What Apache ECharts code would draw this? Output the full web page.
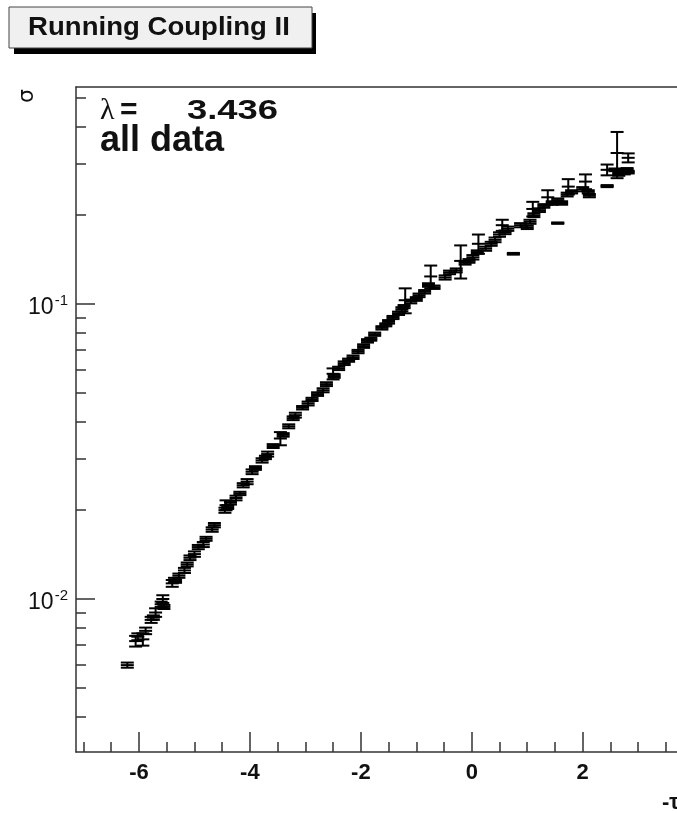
<!DOCTYPE html>
<html>
<head>
<meta charset="utf-8">
<script src="https://cdn.jsdelivr.net/npm/echarts@6/dist/echarts.min.js"></script>
<style>
  html, body { margin: 0; padding: 0; background: #fff; }
  #chart { width: 677px; height: 813px; }
</style>
</head>
<body>
<div id="chart"></div>
<script>
// running coupling sigma vs -tau, lambda = 3.436, all data
var xVals = [-6.21, -6.06, -6.02, -5.93, -5.88, -5.78, -5.74, -5.70, -5.60, -5.57, -5.55,
  -5.40, -5.36, -5.34, -5.28, -5.18, -5.13, -5.08, -5.00, -4.93, -4.84, -4.79, -4.68, -4.64,
  -4.45, -4.43, -4.40, -4.35, -4.25, -4.18, -4.12, -4.05, -3.96, -3.90, -3.78, -3.72, -3.68,
  -3.58, -3.45, -3.40, -3.30, -3.22, -3.18, -3.05, -2.95, -2.88, -2.78, -2.68, -2.62, -2.50,
  -2.48, -2.40, -2.30, -2.22, -2.14, -2.05, -1.95, -1.88, -1.82, -1.75, -1.62, -1.55, -1.50,
  -1.42, -1.32, -1.26, -1.22, -1.20, -1.10, -1.00, -0.95, -0.85, -0.78, -0.74, -0.68, -0.48,
  -0.40, -0.28, -0.20, -0.12, -0.05, 0.02, 0.10, 0.12, 0.25, 0.35, 0.42, 0.50, 0.55, 0.60,
  0.65, 0.75, 0.88, 1.00, 1.05, 1.10, 1.12, 1.22, 1.30, 1.37, 1.45, 1.55, 1.55, 1.62, 1.72,
  1.74, 1.80, 2.00, 2.05, 2.10, 2.12, 2.44, 2.44, 2.58, 2.62, 2.65, 2.75, 2.80, 2.82, 2.82];
var yVals = [0.00597, 0.00720, 0.00745, 0.00730, 0.00780, 0.00850, 0.00865, 0.00900, 0.00960, 0.01000, 0.00940,
  0.01130, 0.01160, 0.01150, 0.01200, 0.01250, 0.01310, 0.01380, 0.01420, 0.01500, 0.01530, 0.01600, 0.01720, 0.01780,
  0.02000, 0.02080, 0.02050, 0.02120, 0.02200, 0.02280, 0.02430, 0.02500, 0.02700, 0.02780, 0.02950, 0.03020, 0.03100,
  0.03300, 0.03500, 0.03600, 0.03850, 0.04100, 0.04200, 0.04450, 0.04600, 0.04750, 0.04950, 0.05100, 0.05350, 0.05800,
  0.05700, 0.06050, 0.06300, 0.06450, 0.06600, 0.06900, 0.07200, 0.07500, 0.07600, 0.07900, 0.08300, 0.08500, 0.08700,
  0.09000, 0.09300, 0.09600, 0.09800, 0.10300, 0.10200, 0.10400, 0.10700, 0.11000, 0.11600, 0.12400, 0.11400, 0.12300,
  0.12800, 0.13000, 0.14000, 0.13800, 0.14000, 0.14400, 0.15000, 0.16000, 0.15400, 0.16000, 0.16500, 0.17200, 0.18500, 0.17500,
  0.18000, 0.14800, 0.18500, 0.18200, 0.19000, 0.21000, 0.20000, 0.20800, 0.21500, 0.23000, 0.22000, 0.18800, 0.22500, 0.22000, 0.23500,
  0.25000, 0.24000, 0.24500, 0.26000, 0.24000, 0.23300, 0.25100, 0.28500, 0.28500, 0.32500, 0.27500, 0.27800, 0.28600, 0.31300, 0.28000];
var yErrs = [0.00012, 0.00030, 0.00020, 0.00035, 0.00020, 0.00020, 0.00015, 0.00030, 0.00020, 0.00030, 0.00015,
  0.00030, 0.00020, 0.00015, 0.00020, 0.00025, 0.00020, 0.00025, 0.00030, 0.00025, 0.00030, 0.00025, 0.00030, 0.00030,
  0.00040, 0.00080, 0.00030, 0.00030, 0.00040, 0.00030, 0.00040, 0.00050, 0.00050, 0.00040, 0.00050, 0.00040, 0.00060,
  0.00050, 0.00180, 0.00050, 0.00060, 0.00060, 0.00080, 0.00060, 0.00070, 0.00060, 0.00070, 0.00080, 0.00080, 0.00250,
  0.00080, 0.00080, 0.00090, 0.00080, 0.00090, 0.00090, 0.00100, 0.00100, 0.00090, 0.00100, 0.00110, 0.00100, 0.00120,
  0.00110, 0.00120, 0.00150, 0.00120, 0.01000, 0.00150, 0.00150, 0.00150, 0.00150, 0.00160, 0.01100, 0.00150, 0.00200,
  0.00180, 0.00200, 0.01800, 0.00200, 0.00200, 0.00250, 0.00200, 0.01200, 0.00250, 0.00250, 0.00300, 0.00300, 0.00800, 0.00250,
  0.00300, 0.00100, 0.00300, 0.00250, 0.00300, 0.01200, 0.00300, 0.00300, 0.00300, 0.01300, 0.00300, 0.00100, 0.00300, 0.00300, 0.00350,
  0.01500, 0.00300, 0.00400, 0.01500, 0.00300, 0.00300, 0.00200, 0.01200, 0.00300, 0.05800, 0.00300, 0.00300, 0.00300, 0.01100, 0.00300];

var xMajor = [-6, -4, -2, 0, 2];
var xMinor = [-7, -6.5, -5.5, -5, -4.5, -3.5, -3, -2.5, -1.5, -1, -0.5, 0.5, 1, 1.5, 2.5, 3, 3.5];
var yMajor = [0.01, 0.1];
var yMinor = [0.004, 0.005, 0.006, 0.007, 0.008, 0.009, 0.02, 0.03, 0.04, 0.05, 0.06, 0.07, 0.08, 0.09, 0.2, 0.3, 0.4, 0.5];

var xMin = -7.135, xMax = 3.70;
var yMin = 0.00303, yMax = 0.544;
var lg = function (v) { return Math.log10(v); };

var points = xVals.map(function (x, i) { return [x, yVals[i], yErrs[i]]; });

var axisColor = '#333';
var labelFont = { fontFamily: 'Liberation Sans', fontWeight: 'bold', color: '#111' };

var myChart = echarts.init(document.getElementById('chart'));
myChart.setOption({
  animation: false,
  grid: { left: 76, right: 0, top: 87, bottom: 61 },
  xAxis: [
    {
      type: 'value', min: xMin, max: xMax, position: 'bottom',
      axisLine: { show: true, onZero: false, lineStyle: { color: axisColor, width: 1.5 } },
      axisTick: { show: true, inside: true, length: 20, customValues: xMajor, lineStyle: { color: axisColor, width: 1.5 } },
      axisLabel: Object.assign({ customValues: xMajor, fontSize: 22, margin: 10 }, labelFont),
      splitLine: { show: false }
    },
    {
      type: 'value', min: xMin, max: xMax, position: 'bottom',
      axisLine: { show: false, onZero: false },
      axisTick: { show: true, inside: true, length: 10, customValues: xMinor, lineStyle: { color: axisColor, width: 1.5 } },
      axisLabel: { show: false },
      splitLine: { show: false }
    },
    {
      type: 'value', min: xMin, max: xMax, position: 'top',
      axisLine: { show: true, onZero: false, lineStyle: { color: axisColor, width: 1.5 } },
      axisTick: { show: false }, axisLabel: { show: false }, splitLine: { show: false }
    }
  ],
  yAxis: [
    {
      type: 'log', logBase: 10, min: yMin, max: yMax, position: 'left',
      axisLine: { show: true, onZero: false, lineStyle: { color: axisColor, width: 1.5 } },
      axisTick: { show: false }, axisLabel: { show: false }, splitLine: { show: false }
    },
    {
      type: 'value', min: lg(yMin), max: lg(yMax), position: 'left',
      axisLine: { show: false, onZero: false },
      axisTick: { show: true, inside: true, length: 19, customValues: yMajor.map(lg), lineStyle: { color: axisColor, width: 1.5 } },
      axisLabel: {
        customValues: yMajor.map(lg), margin: 8, padding: [8, 0, 0, 0],
        formatter: function (v) { return '{b|10}{s|' + Math.round(v) + '}'; },
        rich: {
          b: { fontFamily: 'Liberation Sans', fontSize: 23, color: '#111', lineHeight: 30 },
          s: { fontFamily: 'Liberation Sans', fontSize: 15, color: '#111', lineHeight: 14, verticalAlign: 'top', padding: [0, 0, 0, 1] }
        }
      },
      splitLine: { show: false }
    },
    {
      type: 'value', min: lg(yMin), max: lg(yMax), position: 'left',
      axisLine: { show: false, onZero: false },
      axisTick: { show: true, inside: true, length: 10, customValues: yMinor.map(lg), lineStyle: { color: axisColor, width: 1.5 } },
      axisLabel: { show: false }, splitLine: { show: false }
    }
  ],
  series: [
    {
      type: 'custom',
      xAxisIndex: 0, yAxisIndex: 0,
      data: points,
      renderItem: function (params, api) {
        var x = api.value(0), y = api.value(1), e = api.value(2);
        var c = api.coord([x, y]);
        var hi = api.coord([x, y + e]);
        var lo = api.coord([x, Math.max(y - e, 1e-5)]);
        var hw = 6.5;
        var st = { stroke: '#000', lineWidth: 2 };
        var seg = function (x1, y1, x2, y2) {
          return { type: 'line', shape: { x1: x1, y1: y1, x2: x2, y2: y2 }, style: st };
        };
        return {
          type: 'group',
          children: [
            seg(c[0] - hw, c[1], c[0] + hw, c[1]),
            seg(c[0], hi[1], c[0], lo[1]),
            seg(c[0] - hw, hi[1], c[0] + hw, hi[1]),
            seg(c[0] - hw, lo[1], c[0] + hw, lo[1])
          ]
        };
      }
    }
  ],
  graphic: [
    { type: 'rect', shape: { x: 14, y: 13, width: 302, height: 41 }, style: { fill: '#000' } },
    { type: 'rect', shape: { x: 9, y: 7, width: 303, height: 41 }, style: { fill: '#f0f0f0', stroke: '#444', lineWidth: 1 } },
    { type: 'text', x: 159, y: 28, scaleX: 1.06, style: { text: 'Running Coupling II', fontFamily: 'Liberation Sans', fontWeight: 'bold', fontSize: 26, fill: '#111', align: 'center', verticalAlign: 'middle' } },
    { type: 'text', x: 27, y: 96, rotation: Math.PI / 2, style: { text: 'σ', fontFamily: 'DejaVu Sans', fontSize: 22, fill: '#111', align: 'center', verticalAlign: 'middle' } },
    { type: 'text', x: 100, y: 111, style: { text: 'λ', fontFamily: 'Liberation Serif', fontSize: 30, fill: '#111', verticalAlign: 'middle' } },
    { type: 'text', x: 120, y: 111, style: { text: '=', fontFamily: 'Liberation Sans', fontWeight: 'bold', fontSize: 30, fill: '#111', verticalAlign: 'middle' } },
    { type: 'text', x: 187, y: 111, scaleX: 1.3, style: { text: '3.436', fontFamily: 'Liberation Sans', fontWeight: 'bold', fontSize: 28, fill: '#111', verticalAlign: 'middle' } },
    { type: 'text', x: 100, y: 141, style: { text: 'all data', fontFamily: 'Liberation Sans', fontWeight: 'bold', fontSize: 36, fill: '#111', verticalAlign: 'middle' } },
    { type: 'text', x: 662, y: 803, style: { text: '-τ', fontFamily: 'Liberation Sans', fontWeight: 'bold', fontSize: 22, fill: '#111', verticalAlign: 'middle' } }
  ]
});
</script>
</body>
</html>
